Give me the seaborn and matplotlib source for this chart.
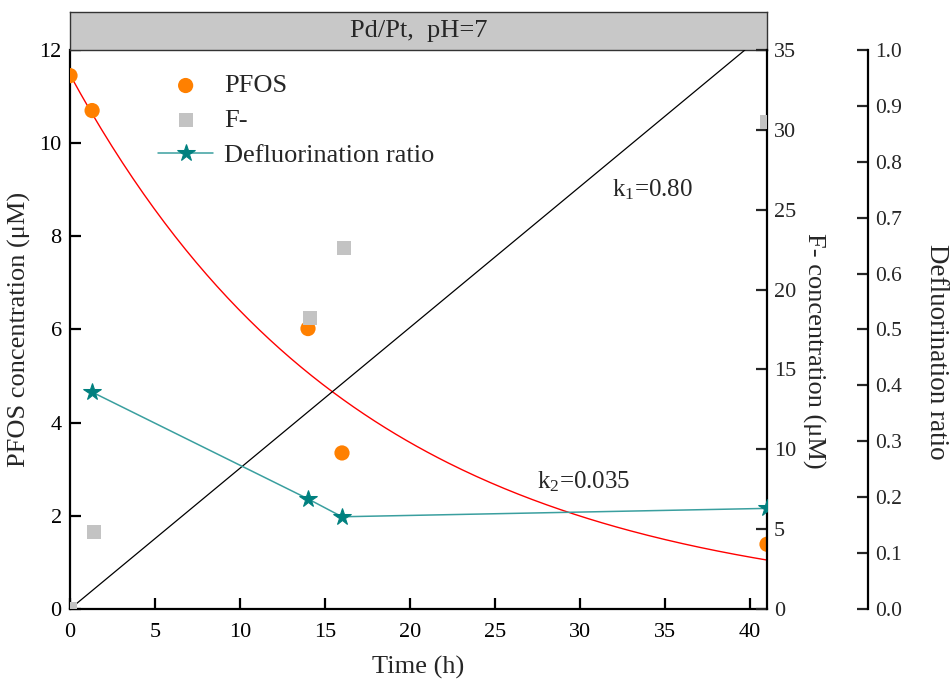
import numpy as np
import pandas as pd
import matplotlib
matplotlib.use("Agg")
import matplotlib.pyplot as plt
import seaborn as sns

# ---------------- data ----------------
time_pfos = [0.0, 1.3, 14.0, 16.0, 41.0]
pfos_conc = [11.45, 10.7, 6.02, 3.35, 1.39]

time_f = [0.0, 1.4, 14.1, 16.1, 41.0]
f_conc = [0.0, 4.8, 18.2, 22.6, 30.5]

time_ratio = [1.3, 14.0, 16.0, 41.0]
defl_ratio = [0.388, 0.197, 0.165, 0.180]

# first-order fit of PFOS decay (C0, k)
pfos_fit_c0 = 11.47
pfos_fit_k = 0.0583
# linear fit of F- formation (end points of the drawn line)
f_line_t = [0.0, 39.7]
f_line_c = [0.0, 35.0]

x_ticks = [0, 5, 10, 15, 20, 25, 30, 35, 40]
left_ticks = [0, 2, 4, 6, 8, 10, 12]
right_ticks = [0, 5, 10, 15, 20, 25, 30, 35]
ratio_ticks = [0.0, 0.1, 0.2, 0.3, 0.4, 0.5, 0.6, 0.7, 0.8, 0.9, 1.0]

header_text = "Pd/Pt,  pH=7"
k1_text = r"k$_\mathregular{1}$=0.80"
k2_text = r"k$_\mathregular{2}$=0.035"

# ---------------- style ----------------
sns.set_theme(style="white")
plt.rcParams["font.family"] = ["Liberation Serif", "DejaVu Serif"]
plt.rcParams["mathtext.fontset"] = "custom"
plt.rcParams["mathtext.rm"] = "Liberation Serif"
plt.rcParams["mathtext.it"] = "Liberation Serif:italic"

ORANGE = "#FF8000"
GRAY = "#C3C3C3"
TEAL_LINE = "#3A9F9F"
TEAL_MARK = "#00807F"

W, H = 952, 687
fig = plt.figure(figsize=(W / 100, H / 100), dpi=100)

ax_l, ax_r, ax_t, ax_b = 70, 767, 50, 609
ax = fig.add_axes([ax_l / W, 1 - ax_b / H, (ax_r - ax_l) / W, (ax_b - ax_t) / H])
ax.set_facecolor("none")

# header
hdr = fig.add_axes([ax_l / W, 1 - ax_t / H, (ax_r - ax_l) / W, 38 / H])
hdr.set_facecolor("#C8C8C8")
hdr.set_xticks([])
hdr.set_yticks([])
for s in hdr.spines.values():
    s.set_color("#333333")
    s.set_linewidth(1.0)
hdr.text(0.5, 0.5, header_text, ha="center", va="center", fontsize=19,
         transform=hdr.transAxes)

ax2 = ax.twinx()
ax3 = ax.twinx()
ax3.spines["right"].set_position(("axes", (868 - ax_l) / (ax_r - ax_l)))

# PFOS
df_pfos = pd.DataFrame({"t": time_pfos, "c": pfos_conc})
sns.scatterplot(data=df_pfos, x="t", y="c", ax=ax, color=ORANGE, s=120,
                edgecolor="none", label="PFOS", legend=False, zorder=3)
t_fit = np.linspace(0, 41, 200)
df_fit = pd.DataFrame({"t": t_fit, "c": pfos_fit_c0 * np.exp(-pfos_fit_k * t_fit)})
sns.lineplot(data=df_fit, x="t", y="c", ax=ax, color="#FF0000", lw=1.0,
             legend=False, zorder=2)

# F-
df_f = pd.DataFrame({"t": time_f, "c": f_conc})
sns.scatterplot(data=df_f, x="t", y="c", ax=ax2, color=GRAY, marker="s", s=100,
                edgecolor="none", label="F-", legend=False, zorder=3)
df_fl = pd.DataFrame({"t": f_line_t, "c": f_line_c})
sns.lineplot(data=df_fl, x="t", y="c", ax=ax2, color="black", lw=0.9,
             legend=False, zorder=2)

# Defluorination ratio
df_r = pd.DataFrame({"t": time_ratio, "r": defl_ratio})
sns.lineplot(data=df_r, x="t", y="r", ax=ax3, color=TEAL_LINE, lw=1.1,
             marker="*", markersize=13, markerfacecolor=TEAL_MARK,
             markeredgecolor=TEAL_MARK, label="Defluorination ratio",
             legend=False, zorder=3)

# axes limits / ticks
ax.set_xlim(0, 41)
ax.set_ylim(0, 12)
ax2.set_ylim(0, 35)
ax3.set_ylim(0, 1.0)
ax.set_xticks(x_ticks)
ax.set_yticks(left_ticks)
ax2.set_yticks(right_ticks)
ax3.set_yticks(ratio_ticks)
ax3.set_yticklabels([f"{v:.1f}" for v in ratio_ticks])

for a in (ax, ax2, ax3):
    for s in a.spines.values():
        s.set_visible(False)
    a.grid(False)

ax.spines["left"].set_visible(True)
ax.spines["bottom"].set_visible(True)
ax2.spines["right"].set_visible(True)
ax3.spines["right"].set_visible(True)
for s in (ax.spines["left"], ax.spines["bottom"], ax2.spines["right"], ax3.spines["right"]):
    s.set_color("black")
    s.set_linewidth(1.6)

ax.tick_params(axis="both", direction="in", length=8, width=1.6, labelsize=16,
               colors="black", pad=6, left=True, bottom=True)
ax.tick_params(axis="x", pad=10)
ax2.tick_params(axis="y", direction="in", length=8, width=1.6, labelsize=16,
                right=True, pad=5)
ax3.tick_params(axis="y", direction="in", length=8, width=1.6, labelsize=15.5,
                right=True, pad=5)

ax.set_xlabel("Time (h)", fontsize=19, labelpad=10)
ax.set_ylabel("PFOS concentration (\u03bcM)", fontsize=19, labelpad=6)
ax2.set_ylabel("F- concentration (\u03bcM)", fontsize=19, rotation=270,
               ha="center", va="center")
ax2.yaxis.set_label_coords((814 - ax_l) / (ax_r - ax_l), (ax_b - 351) / (ax_b - ax_t))
ax3.set_ylabel("Defluorination ratio", fontsize=19.5, rotation=270,
               ha="center", va="center")
ax3.yaxis.set_label_coords((937 - ax_l) / (ax_r - ax_l), (ax_b - 352) / (ax_b - ax_t))

# annotations
ax.text(31.9, 9.0, k1_text, fontsize=18, ha="left", va="center")
ax.text(27.5, 2.73, k2_text, fontsize=18, ha="left", va="center")

# legend
handles, labels = [], []
for a in (ax, ax2, ax3):
    h, l = a.get_legend_handles_labels()
    handles += h
    labels += l
ax3.legend(handles, labels, loc="upper left", bbox_to_anchor=(0.111, 0.976),
           frameon=False, fontsize=19, handlelength=2.1, labelspacing=0.43,
           handletextpad=0.4, borderaxespad=0)

fig.savefig("out.png", dpi=100)
